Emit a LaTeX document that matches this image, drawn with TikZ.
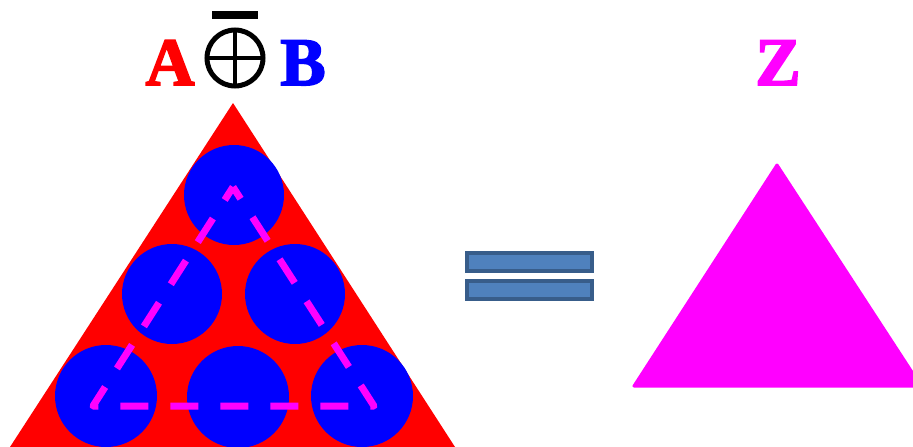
\documentclass[tikz,border=0pt]{standalone}
\usepackage{fontspec}
\setmainfont{Liberation Serif}
\newfontfamily\heavyfont[UprightFeatures={FakeBold=2.5}, BoldFeatures={FakeBold=2.5}]{Liberation Serif}
\definecolor{eqfill}{HTML}{4F81BD}
\definecolor{eqdraw}{HTML}{385D8A}
\definecolor{mag}{HTML}{FF00FF}
\definecolor{pureblue}{HTML}{0000FF}
\definecolor{purered}{HTML}{FF0000}
\begin{document}
\begin{tikzpicture}[x=1pt,y=-1pt,
  letter/.style={font=\heavyfont\bfseries\fontsize{68}{68}\selectfont, inner sep=0pt, anchor=base},
  ball/.style={fill=pureblue},
  eqbar/.style={fill=eqfill, draw=eqdraw, line width=4pt},
  dashtri/.style={draw=mag, line width=7pt, dash pattern=on 28pt off 22pt, dash phase=14pt, line join=round}]
\useasboundingbox (0,0) rectangle (913,447);
\clip (0,0) rectangle (913,447);
% red triangle
\fill[purered] (233,103) -- (455,447) -- (10,447) -- cycle;
% blue circles
\fill[ball] (234,195) circle (50);
\fill[ball] (172,294) circle (50);
\fill[ball] (295,294) circle (50);
\fill[ball] (106,396) circle (51);
\fill[ball] (238,397) circle (51);
\fill[ball] (362,396) circle (51);
% dashed magenta triangle
\coordinate (p1) at (233,187);
\coordinate (p2) at (374,406);
\coordinate (p3) at (93,406);
\draw[dashtri] (p1) -- (p2) -- (p3) -- cycle;
% labels
\node[letter, text=purered] (la) at (170,85) {A};
\node[letter, text=pureblue] (lb) at (303,85) {B};
\node[letter, text=mag] (lz) at (778,85) {Z};
% xnor symbol
\coordinate (oc) at (235,58);
\draw[line width=5pt] (oc) circle (28);
\draw[line width=4pt] (207,58) -- (263,58) (235,30) -- (235,86);
\fill (212,11) rectangle (258,19);
% equals
\draw[eqbar] (467,253) rectangle (592,271);
\draw[eqbar] (467,281) rectangle (592,299);
% magenta triangle
\fill[mag, draw=mag, line width=3pt, line join=round] (777,165) -- (921,386) -- (634,386) -- cycle;
\end{tikzpicture}
\end{document}
